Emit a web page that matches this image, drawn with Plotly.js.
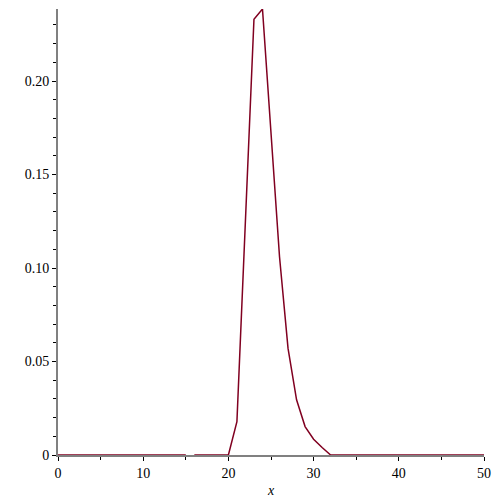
<!DOCTYPE html>
<html>
<head>
<meta charset="utf-8">
<script src="https://cdn.plot.ly/plotly-3.0.1.min.js"></script>
<style>html,body{margin:0;padding:0;background:#fff;}#chart{width:500px;height:500px;}</style>
</head>
<body>
<div id="chart"></div>
<script>
// Data (null = gap in the drawn curve)
const xValues = [0, 5, 10, 15, 15.5, 16, 17, 18, 19, 20, 21, 22, 23, 24, 25, 26, 27, 28, 29, 30, 31, 32, 35, 40, 45, 50];
const yValues = [0, 0, 0, 0, null, 0, 0, 0, 0, 0, 0.0178, 0.125, 0.233, 0.2385, 0.171, 0.106, 0.057, 0.0295, 0.0152, 0.0084, 0.004, 0, 0, 0, 0, 0];
const yTickVals = [0, 0.05, 0.10, 0.15, 0.20];
const yTickText = ["0", "0.05", "0.10", "0.15", "0.20"];
const xTickVals = [0, 10, 20, 30, 40, 50];
const xTickText = ["0", "10", "20", "30", "40", "50"];

const fontSerif = {family: "Liberation Serif", size: 14, color: "#000"};

const trace = {
  x: xValues, y: yValues, type: "scatter", mode: "lines",
  connectgaps: false,
  line: {color: "#800020", width: 1.5},
  hoverinfo: "skip"
};

const layout = {
  width: 500, height: 500,
  margin: {l: 58, r: 16, t: 9, b: 45},
  paper_bgcolor: "#fff", plot_bgcolor: "#fff",
  showlegend: false,
  font: fontSerif,
  xaxis: {
    range: [0, 50], showgrid: false, zeroline: false,
    showline: true, linecolor: "#808080", linewidth: 2,
    ticks: "outside", ticklen: 4, tickcolor: "#000", tickwidth: 1,
    tickvals: xTickVals, ticktext: xTickText, tickfont: fontSerif,
    minor: {dtick: 5, tick0: 0, ticks: "outside", ticklen: 3, tickcolor: "#000", tickwidth: 1, showgrid: false},
    title: {text: "<i>x</i>", font: fontSerif, standoff: 5},
    fixedrange: true
  },
  yaxis: {
    range: [0, 0.2385], showgrid: false, zeroline: false,
    showline: true, linecolor: "#808080", linewidth: 2,
    ticks: "outside", ticklen: 4, tickcolor: "#000", tickwidth: 1,
    tickvals: yTickVals, ticktext: yTickText, tickfont: fontSerif,
    minor: {dtick: 0.01, tick0: 0, ticks: "outside", ticklen: 3, tickcolor: "#000", tickwidth: 1, showgrid: false},
    fixedrange: true
  }
};

Plotly.newPlot("chart", [trace], layout, {displayModeBar: false, staticPlot: true});
</script>
</body>
</html>
